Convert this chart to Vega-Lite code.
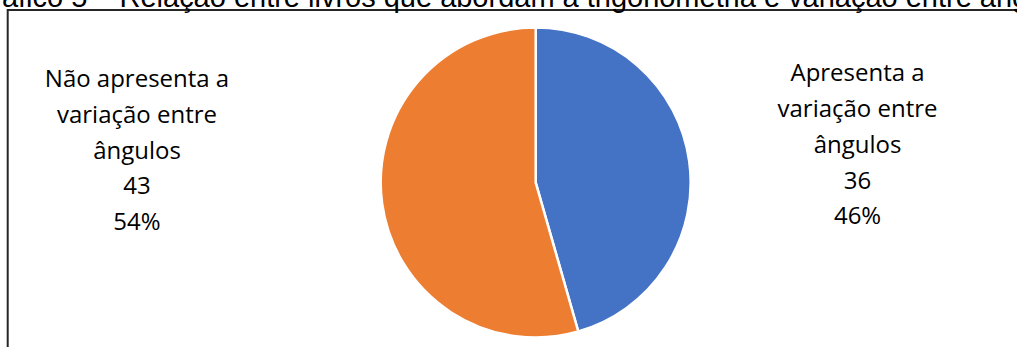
{
  "$schema": "https://vega.github.io/schema/vega-lite/v6.json",
  "autosize": "none",
  "padding": {"left": 7.7, "top": 10, "right": 0, "bottom": 0},
  "width": 1056,
  "height": 345,
  "background": "white",
  "title": {
    "text": "Gráfico 5 – Relação entre livros que abordam a trigonometria e variação entre ângulos",
    "anchor": "start",
    "frame": "group",
    "font": "Liberation Sans",
    "fontSize": 29,
    "fontWeight": "normal",
    "color": "#000000",
    "baseline": "alphabetic",
    "dx": -38,
    "offset": -60.5
  },
  "config": {
    "view": {"stroke": null}
  },
  "data": {
    "values": [
      {"cat": "Apresenta a variação entre ângulos", "value": 36, "label": "Apresenta a\nvariação entre\nângulos\n36\n46%"},
      {"cat": "Não apresenta a variação entre ângulos", "value": 43, "label": "Não apresenta a\nvariação entre\nângulos\n43\n54%"}
    ]
  },
  "layer": [
    {
      "data": {"values": [{"frame": "box"}]},
      "mark": {"type": "rect", "fill": null, "stroke": "#262626", "strokeWidth": 2},
      "encoding": {}
    },
    {
      "mark": {"type": "arc", "outerRadius": 155, "stroke": "white", "strokeWidth": 2.5},
      "encoding": {
        "theta": {"field": "value", "type": "quantitative", "stack": true},
        "order": {"field": "cat", "type": "nominal"},
        "color": {
          "field": "cat", "type": "nominal",
          "scale": {"domain": ["Apresenta a variação entre ângulos", "Não apresenta a variação entre ângulos"], "range": ["#4472C4", "#ED7D31"]},
          "legend": null
        }
      }
    },
    {
      "mark": {"type": "text", "radius": 325, "font": "Open Sans", "lineBreak": "\n", "lineHeight": 35.7, "baseline": "alphabetic", "align": "center", "color": "#000000", "dy": -56},
      "encoding": {
        "theta": {"field": "value", "type": "quantitative", "stack": true},
        "order": {"field": "cat", "type": "nominal"},
        "text": {"condition": {"test": "datum.value === 36", "field": "label"}, "value": ""},
        "size": {"condition": {"test": "datum.value === 36", "value": 24}, "value": 0},
        "detail": {"field": "cat"}
      }
    },
    {
      "mark": {"type": "text", "radius": 402.6, "font": "Open Sans", "lineBreak": "\n", "lineHeight": 35.7, "baseline": "alphabetic", "align": "center", "color": "#000000", "dy": -151},
      "encoding": {
        "theta": {"field": "value", "type": "quantitative", "stack": true},
        "order": {"field": "cat", "type": "nominal"},
        "text": {"condition": {"test": "datum.value === 43", "field": "label"}, "value": ""},
        "size": {"condition": {"test": "datum.value === 43", "value": 24}, "value": 0},
        "detail": {"field": "cat"}
      }
    }
  ]
}
